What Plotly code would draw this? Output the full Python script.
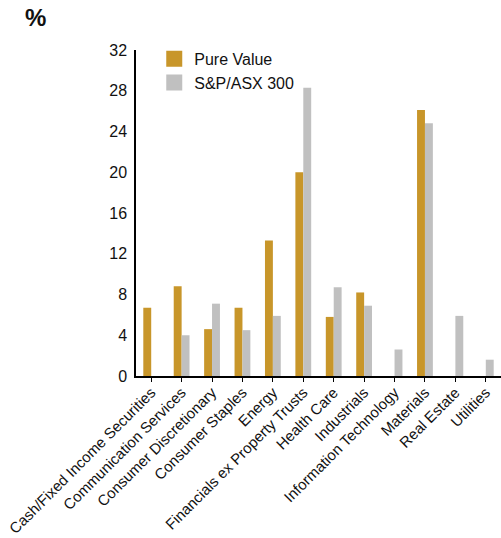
import plotly.graph_objects as go

categories = ["Cash/Fixed Income Securities", "Communication Services", "Consumer Discretionary",
              "Consumer Staples", "Energy", "Financials ex Property Trusts", "Health Care",
              "Industrials", "Information Technology", "Materials", "Real Estate", "Utilities"]
pure_value = [6.7, 8.8, 4.6, 6.7, 13.3, 20.0, 5.8, 8.2, 0, 26.1, 0, 0]
asx300 = [0, 4.0, 7.1, 4.5, 5.9, 28.3, 8.7, 6.9, 2.6, 24.8, 5.9, 1.6]
y_ticks = [0, 4, 8, 12, 16, 20, 24, 28, 32]
series_names = ["Pure Value", "S&P/ASX 300"]
series_colors = ["#C8962A", "#C0C0C0"]

font_family = "Liberation Sans, Arial, sans-serif"

fig = go.Figure()
for name, vals, col in zip(series_names, [pure_value, asx300], series_colors):
    fig.add_trace(go.Bar(x=categories, y=vals, name=name, marker_color=col,
                         marker_line_width=0, showlegend=False))
# legend entries with larger square swatches
for name, col in zip(series_names, series_colors):
    fig.add_trace(go.Scatter(x=[None], y=[None], mode="markers", name=name,
                             marker=dict(symbol="square", size=16, color=col)))

fig.update_layout(
    width=501, height=538,
    margin=dict(l=136, r=0, t=50, b=162),
    paper_bgcolor="white", plot_bgcolor="white",
    barmode="group", bargap=0.48, bargroupgap=0,
    font=dict(family=font_family, color="#111111", size=16),
    showlegend=True,
    legend=dict(x=0.05, y=1.025, xanchor="left", yanchor="top", font=dict(size=16),
                bgcolor="rgba(0,0,0,0)", itemsizing="trace", tracegroupgap=0,
                itemwidth=30),
    xaxis=dict(showline=True, linecolor="black", linewidth=2, ticks="outside", ticklen=4,
               tickcolor="black", tickwidth=1, tickangle=-45, showgrid=False,
               tickfont=dict(size=15), automargin=False, ticklabelstandoff=-4),
    yaxis=dict(range=[0, 32], tickvals=y_ticks, showline=True, linecolor="black", linewidth=1.5,
               showgrid=False, zeroline=False, ticks="", tickfont=dict(size=16),
               ticklabelstandoff=4, automargin=False),
    annotations=[dict(text="<b>%</b>", xref="paper", yref="paper", x=-0.31, y=1.1,
                      xanchor="left", yanchor="middle", showarrow=False,
                      font=dict(size=24, color="#111111"))],
)

fig.write_html("out.html")
